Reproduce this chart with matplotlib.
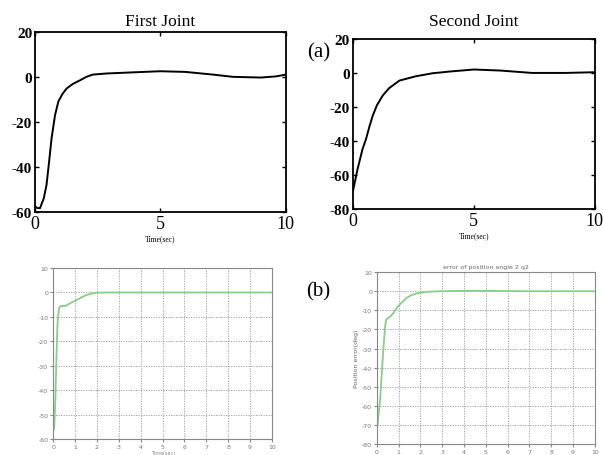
import matplotlib.pyplot as plt

plt.rcParams['axes.unicode_minus'] = False

# (a) top row: published curves
t1 = [0, 0.1, 0.2, 0.35, 0.46, 0.56, 0.66, 0.8, 0.93, 1.1, 1.26, 1.5, 1.8, 2.05, 2.3, 2.85, 3.9, 5.0, 6.0, 7.1, 7.9, 9.0, 9.6, 10]
q1 = [-57.5, -58.3, -58.3, -54, -48, -38, -27.4, -17, -11, -7.5, -5.2, -3.2, -1.5, 0.0, 1.0, 1.5, 2.0, 2.5, 2.2, 1.0, 0.0, -0.3, 0.2, 1.0]

t2 = [0, 0.2, 0.4, 0.55, 0.7, 0.83, 1.0, 1.24, 1.5, 1.93, 2.6, 3.3, 4.0, 5.0, 6.1, 7.4, 8.8, 10]
q2 = [-70, -56.5, -45, -38.8, -31, -25, -19, -13.3, -9, -4.5, -2.0, -0.2, 0.8, 2.0, 1.4, 0.0, 0.0, 0.4]

# (b) bottom row: simulated errors
t3 = [0, 0.05, 0.1, 0.15, 0.2, 0.27, 0.35, 0.46, 0.6, 0.8, 1.07, 1.3, 1.5, 1.75, 2.0, 2.6, 4, 6, 8, 10]
e1 = [-56, -56, -45, -28, -13, -6.5, -5.5, -5.6, -5.4, -4.3, -3.1, -2.0, -1.1, -0.5, -0.1, 0.0, 0.0, 0.0, 0.0, 0.0]

t4 = [0, 0.03, 0.08, 0.15, 0.22, 0.3, 0.38, 0.43, 0.52, 0.61, 0.75, 0.92, 1.15, 1.37, 1.6, 1.83, 2.3, 2.9, 4.0, 5.0, 6.0, 7, 10]
e2 = [-70.5, -70.5, -64, -56.5, -44, -30, -18, -14.7, -14, -13.3, -11.5, -8.6, -5.8, -3.4, -2.0, -1.1, -0.3, 0.0, 0.2, 0.2, 0.1, 0.0, 0.0]

fig = plt.figure(figsize=(6.03, 4.56), dpi=100)
serif = 'Liberation Serif'

def top_panel(rect, t, q, ylim, yticks, title, tpad):
    ax = fig.add_axes(rect)
    ax.plot(t, q, color='black', lw=1.4)
    ax.set_xlim(0, 10)
    ax.set_ylim(*ylim)
    ax.set_xticks([0, 5, 10])
    ax.set_yticks(yticks)
    ax.tick_params(direction='in', top=True, right=True, length=3, width=1, pad=2)
    for lab in ax.get_xticklabels():
        lab.set_fontfamily(serif)
        lab.set_fontsize(13)
    for lab in ax.get_yticklabels():
        lab.set_fontfamily(serif)
        lab.set_fontsize(11)
        lab.set_fontweight('bold')
    for s in ax.spines.values():
        s.set_linewidth(1.3)
    ax.set_xlabel('Time(sec)', fontsize=5.5, family=serif, labelpad=2)
    ax.set_title(title, fontsize=12.5, family=serif, pad=tpad)
    return ax

def bottom_panel(rect, t, e, ylim, yticks, title=None, ylabel=None):
    ax = fig.add_axes(rect)
    ax.plot(t, e, color='#86cf86', lw=1.3)
    ax.set_xlim(0, 10)
    ax.set_ylim(*ylim)
    ax.set_xticks(range(0, 11))
    ax.set_yticks(yticks)
    ax.grid(True, color='#999999', linestyle=(0, (1.5, 1.5)), linewidth=0.6)
    ax.tick_params(labelsize=4.5, labelcolor='#777777', length=2, color='#888888', pad=1.5)
    for s in ax.spines.values():
        s.set_color('#888888')
        s.set_linewidth(0.8)
    if title:
        ax.set_title(title, fontsize=4.5, color='#666666', pad=3)
    if ylabel:
        ax.set_ylabel(ylabel, fontsize=4.5, color='#666666', labelpad=2)
    return ax

top_panel([0.058, 0.533, 0.416, 0.395], t1, q1, (-60, 20), [20, 0, -20, -40, -60], 'First Joint', 5)
top_panel([0.585, 0.5395, 0.401, 0.373], t2, q2, (-80, 20), [20, 0, -20, -40, -60, -80], 'Second Joint', 10)

bottom_panel([0.088, 0.035, 0.363, 0.375], t3, e1, (-60, 10), list(range(10, -61, -10)))
bottom_panel([0.625, 0.024, 0.3615, 0.377], t4, e2, (-80, 10), list(range(10, -81, -10)),
             title='error of position angle 2 q2', ylabel='Position error(deg)')

fig.text(0.27, 0.001, 'Time(sec)', fontsize=3.5, color='#888888', ha='center', va='bottom')

fig.text(0.528, 0.885, '(a)', fontsize=15, family=serif, ha='center', va='center')
fig.text(0.528, 0.36, '(b)', fontsize=15, family=serif, ha='center', va='center')

fig.savefig('out.png', dpi=100)
